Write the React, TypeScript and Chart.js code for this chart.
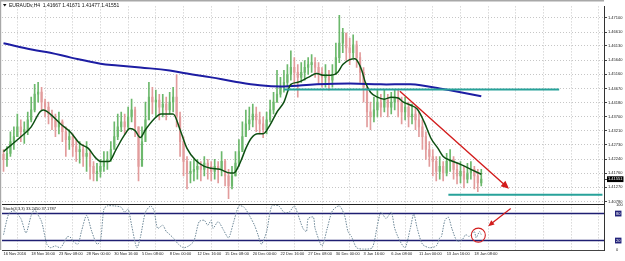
import React, { useEffect, useRef } from 'react';
import { Chart, registerables } from 'chart.js';

Chart.register(...registerables);

const FONT = "'Liberation Sans', Arial, sans-serif";

const TITLE = 'EURAUDv,H4  1.41667 1.41671 1.41477 1.41551';
const STOCH_TITLE = 'Stoch(4,3,3) 33.2450 37.1787';

// H4 bar index range and time labels (one label every 16 H4 bars)
const X_MIN = -0.87;
const X_MAX = 346.9;
const GRID_BARS = [0, 16, 32, 48, 64, 80, 96, 112, 128, 144, 160, 176, 192, 208, 224, 240, 256, 272, 288, 304, 320, 336];
const TIME_LABELS = ['16 Nov 2016', '18 Nov 16:00', '23 Nov 08:00', '28 Nov 00:00', '30 Nov 16:00', '5 Dec 08:00', '8 Dec 00:00', '12 Dec 16:00', '15 Dec 08:00', '20 Dec 00:00', '22 Dec 16:00', '27 Dec 08:00', '30 Dec 00:00', '3 Jan 16:00', '6 Jan 08:00', '11 Jan 00:00', '13 Jan 16:00', '18 Jan 08:00'];

// Price bars (one drawn bar per 2 H4 bars)
const CANDLE_STEP = 2;
const FIRST_OPEN = 1.4240;
const HIGH = [
  1.4257, 1.4267, 1.4318, 1.4335, 1.4379, 1.4359, 1.4352, 1.4386, 1.4437, 1.4481,
  1.4488, 1.4471, 1.4430, 1.4420, 1.4393, 1.4379, 1.4386, 1.4359, 1.4335, 1.4325,
  1.4311, 1.4291, 1.4284, 1.4274, 1.4284, 1.4250, 1.4216, 1.4210, 1.4223, 1.4250,
  1.4250, 1.4284, 1.4352, 1.4379, 1.4386, 1.4379, 1.4403, 1.4430, 1.4403, 1.4335,
  1.4335, 1.4420, 1.4488, 1.4471, 1.4461, 1.4447, 1.4447, 1.4437, 1.4454, 1.4471,
  1.4515, 1.4386, 1.4301, 1.4233, 1.4216, 1.4223, 1.4223, 1.4216, 1.4233, 1.4223,
  1.4216, 1.4223, 1.4216, 1.4250, 1.4223, 1.4189, 1.4199, 1.4250, 1.4291, 1.4352,
  1.4393, 1.4403, 1.4413, 1.4403, 1.4386, 1.4369, 1.4386, 1.4427, 1.4454, 1.4529,
  1.4505, 1.4529, 1.4549, 1.4596, 1.4573, 1.4549, 1.4556, 1.4563, 1.4573, 1.4583,
  1.4573, 1.4556, 1.4539, 1.4549, 1.4529, 1.4549, 1.4623, 1.4718, 1.4674, 1.4657,
  1.4640, 1.4651, 1.4630, 1.4590, 1.4539, 1.4471, 1.4420, 1.4437, 1.4461, 1.4447,
  1.4461, 1.4447, 1.4454, 1.4461, 1.4461, 1.4437, 1.4437, 1.4420, 1.4413, 1.4403,
  1.4386, 1.4359, 1.4318, 1.4284, 1.4257, 1.4233, 1.4233, 1.4216, 1.4244, 1.4257,
  1.4233, 1.4210, 1.4216, 1.4199, 1.4210, 1.4216, 1.4199, 1.4189, 1.4189,
];
const LOW = [
  1.4182, 1.4199, 1.4233, 1.4257, 1.4301, 1.4284, 1.4278, 1.4308, 1.4352, 1.4386,
  1.4420, 1.4393, 1.4369, 1.4345, 1.4325, 1.4301, 1.4311, 1.4284, 1.4233, 1.4257,
  1.4233, 1.4216, 1.4210, 1.4199, 1.4182, 1.4155, 1.4149, 1.4149, 1.4162, 1.4182,
  1.4189, 1.4216, 1.4267, 1.4291, 1.4318, 1.4311, 1.4325, 1.4352, 1.4301, 1.4149,
  1.4216, 1.4318, 1.4386, 1.4379, 1.4369, 1.4359, 1.4369, 1.4359, 1.4379, 1.4386,
  1.4335, 1.4233, 1.4166, 1.4122, 1.4142, 1.4149, 1.4155, 1.4149, 1.4166, 1.4155,
  1.4149, 1.4155, 1.4142, 1.4166, 1.4132, 1.4088, 1.4122, 1.4166, 1.4199, 1.4257,
  1.4311, 1.4325, 1.4335, 1.4318, 1.4311, 1.4298, 1.4311, 1.4352, 1.4379, 1.4420,
  1.4437, 1.4454, 1.4471, 1.4495, 1.4481, 1.4437, 1.4488, 1.4495, 1.4515, 1.4522,
  1.4505, 1.4481, 1.4471, 1.4471, 1.4461, 1.4471, 1.4515, 1.4556, 1.4590, 1.4563,
  1.4549, 1.4573, 1.4539, 1.4488, 1.4420, 1.4335, 1.4325, 1.4352, 1.4369, 1.4369,
  1.4386, 1.4369, 1.4379, 1.4393, 1.4369, 1.4345, 1.4359, 1.4335, 1.4345, 1.4325,
  1.4301, 1.4257, 1.4223, 1.4199, 1.4166, 1.4149, 1.4155, 1.4149, 1.4166, 1.4182,
  1.4155, 1.4139, 1.4142, 1.4125, 1.4142, 1.4155, 1.4122, 1.4112, 1.4132,
];
const CLOSE = [
  1.4223, 1.4244, 1.4284, 1.4301, 1.4335, 1.4318, 1.4325, 1.4359, 1.4393, 1.4447,
  1.4454, 1.4420, 1.4403, 1.4379, 1.4359, 1.4335, 1.4352, 1.4318, 1.4291, 1.4301,
  1.4267, 1.4250, 1.4257, 1.4233, 1.4244, 1.4199, 1.4176, 1.4182, 1.4199, 1.4216,
  1.4223, 1.4257, 1.4301, 1.4335, 1.4352, 1.4335, 1.4369, 1.4393, 1.4335, 1.4199,
  1.4284, 1.4359, 1.4437, 1.4420, 1.4427, 1.4403, 1.4413, 1.4393, 1.4420, 1.4437,
  1.4369, 1.4284, 1.4216, 1.4176, 1.4182, 1.4189, 1.4199, 1.4189, 1.4210, 1.4199,
  1.4182, 1.4199, 1.4189, 1.4216, 1.4166, 1.4132, 1.4166, 1.4210, 1.4250, 1.4301,
  1.4345, 1.4359, 1.4379, 1.4359, 1.4345, 1.4325, 1.4359, 1.4393, 1.4420, 1.4447,
  1.4471, 1.4488, 1.4515, 1.4539, 1.4522, 1.4505, 1.4522, 1.4539, 1.4549, 1.4556,
  1.4539, 1.4522, 1.4505, 1.4515, 1.4495, 1.4515, 1.4573, 1.4623, 1.4657, 1.4606,
  1.4590, 1.4617, 1.4573, 1.4522, 1.4471, 1.4386, 1.4369, 1.4393, 1.4420, 1.4403,
  1.4427, 1.4403, 1.4420, 1.4437, 1.4420, 1.4386, 1.4403, 1.4369, 1.4379, 1.4359,
  1.4335, 1.4301, 1.4257, 1.4233, 1.4216, 1.4182, 1.4199, 1.4176, 1.4216, 1.4223,
  1.4189, 1.4166, 1.4182, 1.4155, 1.4176, 1.4189, 1.4166, 1.4142, 1.41551,
];

// Fast (green) moving average, sampled at bar indexes
const MA_FAST_BARS = [0, 10, 16, 21, 23, 27, 33, 39, 44, 49, 53, 56, 61, 65, 70, 73, 76, 79, 82, 87, 91, 98, 102, 106, 111, 116, 120, 125, 131, 133, 137, 140, 143, 147, 150, 154, 158, 162, 166, 170, 176, 181, 185, 189, 193, 196, 200, 203, 205, 207, 209, 212, 216, 220, 224, 228, 231, 235, 239, 243, 247, 251, 254, 258, 264, 270, 276];
const MA_FAST = [1.4250, 1.4301, 1.4335, 1.4386, 1.4393, 1.4379, 1.4345, 1.4315, 1.4278, 1.4261, 1.4230, 1.4216, 1.4216, 1.4257, 1.4308, 1.4329, 1.4322, 1.4298, 1.4325, 1.4362, 1.4379, 1.4379, 1.4325, 1.4261, 1.4220, 1.4199, 1.4193, 1.4189, 1.4176, 1.4176, 1.4216, 1.4261, 1.4295, 1.4311, 1.4311, 1.4342, 1.4386, 1.4420, 1.4481, 1.4488, 1.4505, 1.4518, 1.4512, 1.4512, 1.4522, 1.4549, 1.4566, 1.4569, 1.4556, 1.4529, 1.4488, 1.4454, 1.4437, 1.4430, 1.4437, 1.4434, 1.4420, 1.4410, 1.4396, 1.4352, 1.4295, 1.4261, 1.4233, 1.4220, 1.4206, 1.4189, 1.4172];

// Slow (blue) moving average
const MA_SLOW_BARS = [0, 17, 27, 39, 56, 66, 79, 96, 106, 120, 133, 148, 162, 181, 200, 218, 235, 241, 252, 264, 276];
const MA_SLOW = [1.4622, 1.4600, 1.4590, 1.4573, 1.4552, 1.4546, 1.4539, 1.4529, 1.4518, 1.4505, 1.4491, 1.4478, 1.4474, 1.4481, 1.4484, 1.4481, 1.4481, 1.4478, 1.4467, 1.4454, 1.4440];

// Stochastic main line
const STOCH_BARS = [0, 3, 6, 10, 13, 16, 18, 19, 22, 25, 27, 30, 33, 37, 39, 40, 43, 45, 48, 51, 54, 56, 58, 60, 64, 68, 70, 72, 74, 77, 79, 82, 85, 87, 89, 92, 94, 95, 98, 101, 104, 107, 110, 113, 116, 118, 120, 121, 124, 127, 130, 133, 136, 139, 142, 145, 147, 149, 152, 155, 159, 162, 165, 168, 170, 173, 175, 176, 179, 180, 184, 187, 190, 194, 197, 199, 201, 204, 208, 213, 216, 218, 221, 224, 226, 229, 232, 235, 237, 239, 242, 246, 250, 252, 253, 255, 257, 259, 262, 265, 267, 269, 272, 273, 275, 276];
const STOCH = [33, 79, 86, 69, 37, 76, 90, 83, 62, 12, 4, 8, 4, 29, 26, 19, 12, 40, 76, 40, 12, 19, 90, 97, 97, 94, 83, 90, 54, 4, 26, 83, 97, 86, 47, 54, 40, 37, 26, 12, 4, 8, 19, 62, 65, 54, 65, 47, 62, 44, 26, 62, 97, 94, 76, 54, 33, 12, 40, 97, 97, 83, 83, 97, 79, 47, 40, 69, 72, 47, 8, 47, 86, 97, 76, 40, 29, 4, 1, 4, 54, 83, 69, 83, 47, 19, 4, 47, 79, 47, 12, 4, 8, 26, 29, 65, 72, 47, 19, 22, 33, 29, 40, 26, 40, 33];

const PRICE_TICKS = [1.47100, 1.46610, 1.46130, 1.45640, 1.45160, 1.44670, 1.44180, 1.43700, 1.43210, 1.42730, 1.42240, 1.41760, 1.41270, 1.40780];
const LAST_PRICE = 1.41551;
const PRICE_MIN = 1.4071;
const PRICE_MAX = 1.4749;
const STOCH_TICKS = [100, 80, 20, 0];
const STOCH_LEVELS = [80, 20];

// Drawn objects (bar index, price / stochastic value)
const LEVEL_FROM = [162, 257];
const LEVEL_TO = [321, 346];
const LEVEL_PRICE = [1.4463, 1.4102];
const TREND_ARROW_BARS = [229, 292];
const TREND_ARROW_PRICES = [1.4457, 1.4122];
const STOCH_ARROW_BARS = [293, 280];
const STOCH_ARROW_VALUES = [91, 52];
const STOCH_CIRCLE = { bar: 274.3, value: 32 };

const UP = '#6cb86c';
const DOWN = '#e29c9c';
const TEAL = '#27a29a';
const RED = '#d21c1c';
const GRID = '#c6c6c6';

function arrow(ctx: CanvasRenderingContext2D, x1: number, y1: number, x2: number, y2: number, head: number, width: number) {
  const a = Math.atan2(y2 - y1, x2 - x1);
  const c = Math.cos(a), s = Math.sin(a);
  ctx.strokeStyle = RED;
  ctx.fillStyle = RED;
  ctx.lineWidth = width;
  ctx.beginPath();
  ctx.moveTo(x1, y1);
  ctx.lineTo(x2 - c * head * 0.7, y2 - s * head * 0.7);
  ctx.stroke();
  const w = head * 0.45;
  ctx.beginPath();
  ctx.moveTo(x2, y2);
  ctx.lineTo(x2 - head * c + w * s, y2 - head * s - w * c);
  ctx.lineTo(x2 - head * c - w * s, y2 - head * s + w * c);
  ctx.closePath();
  ctx.fill();
}

const annotate = {
  id: 'annotate',
  afterDatasetsDraw(chart: any) {
    const { ctx, scales } = chart;
    const x = scales.x, y = scales.y, y2 = scales.y2;
    ctx.save();
    ctx.strokeStyle = TEAL;
    ctx.lineWidth = 2;
    LEVEL_PRICE.forEach((p, i) => {
      const py = y.getPixelForValue(p);
      ctx.beginPath();
      ctx.moveTo(x.getPixelForValue(LEVEL_FROM[i]), py);
      ctx.lineTo(x.getPixelForValue(LEVEL_TO[i]), py);
      ctx.stroke();
    });
    arrow(ctx,
      x.getPixelForValue(TREND_ARROW_BARS[0]), y.getPixelForValue(TREND_ARROW_PRICES[0]),
      x.getPixelForValue(TREND_ARROW_BARS[1]), y.getPixelForValue(TREND_ARROW_PRICES[1]), 8, 1.4);
    arrow(ctx,
      x.getPixelForValue(STOCH_ARROW_BARS[0]), y2.getPixelForValue(STOCH_ARROW_VALUES[0]),
      x.getPixelForValue(STOCH_ARROW_BARS[1]), y2.getPixelForValue(STOCH_ARROW_VALUES[1]), 6, 1.2);
    ctx.strokeStyle = RED;
    ctx.lineWidth = 1.1;
    ctx.beginPath();
    ctx.arc(x.getPixelForValue(STOCH_CIRCLE.bar), y2.getPixelForValue(STOCH_CIRCLE.value), 7, 0, Math.PI * 2);
    ctx.stroke();
    ctx.restore();
  },
  afterDraw(chart: any) {
    const { ctx, chartArea, scales } = chart;
    const y2 = scales.y2;
    ctx.save();
    ctx.fillStyle = '#a8a8a8';
    ctx.fillRect(0, 0, chartArea.right, 1.5);
    ctx.fillRect(0, 0, 1.2, chartArea.bottom);
    ctx.strokeStyle = '#222';
    ctx.lineWidth = 1;
    ctx.beginPath();
    ctx.moveTo(chartArea.left, Math.round(y2.top) + 0.5);
    ctx.lineTo(chartArea.right, Math.round(y2.top) + 0.5);
    ctx.stroke();
    ctx.fillStyle = '#111';
    ctx.beginPath();
    ctx.moveTo(3, 4);
    ctx.lineTo(6.5, 4);
    ctx.lineTo(4.75, 6.5);
    ctx.closePath();
    ctx.fill();
    ctx.textBaseline = 'middle';
    ctx.textAlign = 'left';
    ctx.font = `5px ${FONT}`;
    ctx.fillText(TITLE, 9, 5.5);
    ctx.font = `4px ${FONT}`;
    ctx.fillText(STOCH_TITLE, 3, y2.top + 5);
    ctx.restore();
  },
};

export default function App() {
  const ref = useRef<HTMLCanvasElement>(null);
  useEffect(() => {
    const candles = CLOSE.map((c, i) => {
      const o = i === 0 ? FIRST_OPEN : CLOSE[i - 1];
      return { x: i * CANDLE_STEP, o, h: HIGH[i], l: LOW[i], c };
    });
    const colors = candles.map((k) => (k.c >= k.o ? UP : DOWN));
    const isLast = (ctx: any) => ctx.tick && Math.abs(ctx.tick.value - LAST_PRICE) < 1e-7;
    const isLevel = (ctx: any) => ctx.tick && STOCH_LEVELS.includes(ctx.tick.value);

    const chart = new Chart(ref.current as HTMLCanvasElement, {
      type: 'bar',
      data: {
        datasets: [
          {
            type: 'bar',
            data: candles.map((k) => ({ x: k.x, y: [k.l, k.h] })) as any,
            backgroundColor: colors,
            barThickness: 1,
            grouped: false,
            yAxisID: 'y',
            order: 6,
          },
          {
            type: 'bar',
            data: candles.map((k) => ({ x: k.x, y: [Math.min(k.o, k.c), Math.max(k.o, k.c) + 0.00002] })) as any,
            backgroundColor: colors,
            barThickness: 1.5,
            grouped: false,
            yAxisID: 'y',
            order: 5,
          },
          {
            type: 'line',
            data: MA_SLOW_BARS.map((b, i) => ({ x: b, y: MA_SLOW[i] })),
            borderColor: '#1d1da3',
            borderWidth: 2,
            pointRadius: 0,
            tension: 0.4,
            yAxisID: 'y',
            order: 2,
          },
          {
            type: 'line',
            data: MA_FAST_BARS.map((b, i) => ({ x: b, y: MA_FAST[i] })),
            borderColor: '#0d4f12',
            borderWidth: 1.5,
            pointRadius: 0,
            cubicInterpolationMode: 'monotone',
            yAxisID: 'y',
            order: 1,
          },
          ...STOCH_LEVELS.map((lv) => ({
            type: 'line' as const,
            data: [{ x: X_MIN, y: lv }, { x: X_MAX, y: lv }],
            borderColor: '#1e1e72',
            borderWidth: 1.4,
            pointRadius: 0,
            yAxisID: 'y2',
            order: 3,
          })),
          {
            type: 'line',
            data: STOCH_BARS.map((b, i) => ({ x: b, y: STOCH[i] })),
            borderColor: '#6e8898',
            borderWidth: 1,
            borderDash: [1.5, 1.2],
            pointRadius: 0,
            tension: 0.25,
            yAxisID: 'y2',
            order: 1,
          },
        ] as any,
      },
      options: {
        animation: false,
        responsive: false,
        devicePixelRatio: 1,
        events: [],
        layout: { padding: { left: 2, top: 3, right: 0, bottom: 0 } },
        plugins: { legend: { display: false }, tooltip: { enabled: false }, title: { display: false } },
        scales: {
          x: {
            type: 'linear',
            min: X_MIN,
            max: X_MAX,
            offset: false,
            bounds: 'data',
            afterBuildTicks: (s: any) => { s.ticks = GRID_BARS.map((v) => ({ value: v })); },
            afterFit: (s: any) => { s.height = 11; },
            ticks: {
              autoSkip: false,
              maxRotation: 0,
              minRotation: 0,
              align: 'start',
              padding: 0,
              color: '#222',
              font: { family: FONT, size: 4 },
              callback: (_v: any, i: number) => TIME_LABELS[i] ?? '',
            },
            grid: { color: GRID, lineWidth: 1, drawTicks: true, tickLength: 1, tickColor: '#666' },
            border: { display: true, color: '#444', width: 1, dash: [1, 2] },
          },
          y: {
            type: 'linear',
            position: 'right',
            stack: 'win',
            stackWeight: 200,
            min: PRICE_MIN,
            max: PRICE_MAX,
            bounds: 'data',
            afterBuildTicks: (s: any) => { s.ticks = [...PRICE_TICKS, LAST_PRICE].map((v) => ({ value: v })); },
            afterFit: (s: any) => { s.width = 21; },
            ticks: {
              autoSkip: false,
              padding: 1,
              font: { family: FONT, size: 4 },
              color: (ctx: any) => (isLast(ctx) ? '#fff' : '#222'),
              showLabelBackdrop: (ctx: any) => !!isLast(ctx),
              backdropColor: '#000',
              backdropPadding: { x: 1, y: 0.5 } as any,
              callback: (v: any) => Number(v).toFixed(5),
            } as any,
            grid: {
              color: (ctx: any) => (isLast(ctx) ? 'rgba(0,0,0,0)' : GRID),
              tickLength: 3,
              tickColor: '#444',
            },
            border: { display: true, color: '#333', width: 1, dash: [1, 2] },
          },
          y2: {
            type: 'linear',
            position: 'right',
            stack: 'win',
            stackWeight: 47,
            min: -1,
            max: 102,
            bounds: 'data',
            afterBuildTicks: (s: any) => { s.ticks = STOCH_TICKS.map((v) => ({ value: v })); },
            afterFit: (s: any) => { s.width = 21; },
            ticks: {
              autoSkip: false,
              padding: 4,
              font: { family: FONT, size: 4 },
              color: (ctx: any) => (isLevel(ctx) ? '#fff' : '#222'),
              showLabelBackdrop: (ctx: any) => !!isLevel(ctx),
              backdropColor: '#23237a',
              backdropPadding: { x: 1, y: 0.5 } as any,
              callback: (v: any) => String(v),
            } as any,
            grid: { display: false },
            border: { display: true, color: '#333', width: 1 },
          },
        } as any,
      },
      plugins: [annotate],
    });
    return () => chart.destroy();
  }, []);

  return (
    <div style={{ position: 'fixed', left: 0, top: 0, width: 625, height: 261, background: '#fff' }}>
      <canvas ref={ref} width={625} height={261} style={{ display: 'block', width: 625, height: 261 }} />
    </div>
  );
}
